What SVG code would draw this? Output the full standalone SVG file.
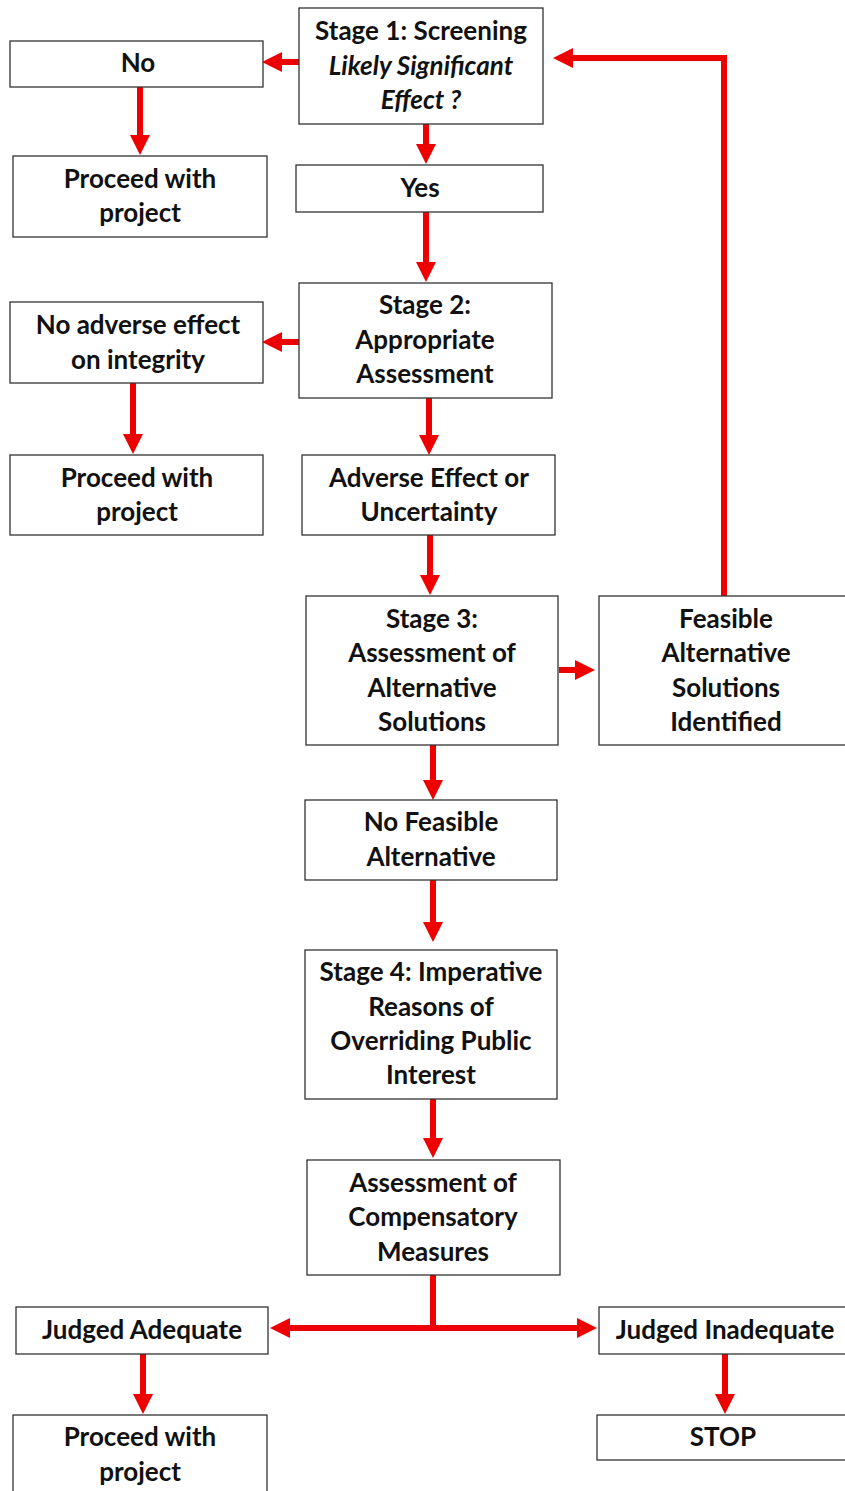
<svg xmlns="http://www.w3.org/2000/svg" width="845" height="1491" viewBox="0 0 845 1491">
<style>
.box{fill:#fff;stroke:#333;stroke-width:1.3}
.t{font-family:Lato,"Open Sans","Liberation Sans",sans-serif;font-weight:bold;font-size:26px;fill:#111;text-anchor:middle}
.i{font-style:italic}
.c{fill:none;stroke:#ee0000;stroke-width:6}
</style>
<defs>
<marker id="ah" markerUnits="userSpaceOnUse" markerWidth="20" markerHeight="20" refX="0" refY="10" orient="auto" viewBox="0 0 20 20">
<path d="M0,0 L20,10 L0,20 z" fill="#ee0000"/>
</marker>
</defs>
<rect width="845" height="1491" fill="#fff"/>
<g id="connectors">
<path class="c" d="M299,62 H282" marker-end="url(#ah)"/>
<path class="c" d="M140,87 V135" marker-end="url(#ah)"/>
<path class="c" d="M426,124 V144" marker-end="url(#ah)"/>
<path class="c" d="M426,212 V262" marker-end="url(#ah)"/>
<path class="c" d="M299,342 H282" marker-end="url(#ah)"/>
<path class="c" d="M133,383 V434" marker-end="url(#ah)"/>
<path class="c" d="M429,398 V435" marker-end="url(#ah)"/>
<path class="c" d="M430,535 V575" marker-end="url(#ah)"/>
<path class="c" d="M559,670 H575" marker-end="url(#ah)"/>
<path class="c" d="M724,596 V58 H573" marker-end="url(#ah)"/>
<path class="c" d="M433,745 V780" marker-end="url(#ah)"/>
<path class="c" d="M433,880 V922" marker-end="url(#ah)"/>
<path class="c" d="M433,1099 V1138" marker-end="url(#ah)"/>
<path class="c" d="M433,1275 V1328"/>
<path class="c" d="M433,1328 H290" marker-end="url(#ah)"/>
<path class="c" d="M433,1328 H577" marker-end="url(#ah)"/>
<path class="c" d="M143,1354 V1394" marker-end="url(#ah)"/>
<path class="c" d="M725,1354 V1394" marker-end="url(#ah)"/>
</g>
<g id="stage1"><rect class="box" x="299" y="8" width="244" height="116"/>
<text class="t" x="421" y="40">Stage 1: Screening</text>
<text class="t i" x="421" y="75">Likely Significant</text>
<text class="t i" x="421" y="109">Effect ?</text></g>
<g id="no"><rect class="box" x="10" y="41" width="253" height="46"/>
<text class="t" x="138" y="72">No</text></g>
<g id="proceed1"><rect class="box" x="13" y="156" width="254" height="81"/>
<text class="t" x="140" y="188">Proceed with</text>
<text class="t" x="140" y="222">project</text></g>
<g id="yes"><rect class="box" x="296" y="165" width="247" height="47"/>
<text class="t" x="420" y="197">Yes</text></g>
<g id="stage2"><rect class="box" x="299" y="283" width="253" height="115"/>
<text class="t" x="425" y="314">Stage 2:</text>
<text class="t" x="425" y="349">Appropriate</text>
<text class="t" x="425" y="383">Assessment</text></g>
<g id="noadverse"><rect class="box" x="10" y="302" width="253" height="81"/>
<text class="t" x="138" y="334">No adverse effect</text>
<text class="t" x="138" y="369">on integrity</text></g>
<g id="proceed2"><rect class="box" x="10" y="455" width="253" height="80"/>
<text class="t" x="137" y="487">Proceed with</text>
<text class="t" x="137" y="521">project</text></g>
<g id="adverse"><rect class="box" x="302" y="455" width="253" height="80"/>
<text class="t" x="429" y="487">Adverse Effect or</text>
<text class="t" x="429" y="521">Uncertainty</text></g>
<g id="stage3"><rect class="box" x="306" y="596" width="252" height="149"/>
<text class="t" x="432" y="628">Stage 3:</text>
<text class="t" x="432" y="662">Assessment of</text>
<text class="t" x="432" y="697">Alternative</text>
<text class="t" x="432" y="731">Solutions</text></g>
<g id="feasible"><rect class="box" x="599" y="596" width="252" height="149"/>
<text class="t" x="726" y="628">Feasible</text>
<text class="t" x="726" y="662">Alternative</text>
<text class="t" x="726" y="697">Solutions</text>
<text class="t" x="726" y="731">Identified</text></g>
<g id="nofeasible"><rect class="box" x="305" y="800" width="252" height="80"/>
<text class="t" x="431" y="831">No Feasible</text>
<text class="t" x="431" y="866">Alternative</text></g>
<g id="stage4"><rect class="box" x="305" y="950" width="252" height="149"/>
<text class="t" x="431" y="981">Stage 4: Imperative</text>
<text class="t" x="431" y="1016">Reasons of</text>
<text class="t" x="431" y="1050">Overriding Public</text>
<text class="t" x="431" y="1084">Interest</text></g>
<g id="compensatory"><rect class="box" x="307" y="1160" width="253" height="115"/>
<text class="t" x="433" y="1192">Assessment of</text>
<text class="t" x="433" y="1226">Compensatory</text>
<text class="t" x="433" y="1261">Measures</text></g>
<g id="adequate"><rect class="box" x="16" y="1307" width="252" height="47"/>
<text class="t" x="142" y="1339">Judged Adequate</text></g>
<g id="inadequate"><rect class="box" x="599" y="1307" width="252" height="47"/>
<text class="t" x="725" y="1339">Judged Inadequate</text></g>
<g id="proceed3"><rect class="box" x="13" y="1415" width="254" height="82"/>
<text class="t" x="140" y="1446">Proceed with</text>
<text class="t" x="140" y="1481">project</text></g>
<g id="stop"><rect class="box" x="597" y="1415" width="252" height="45"/>
<text class="t" x="723" y="1446">STOP</text></g>
</svg>
